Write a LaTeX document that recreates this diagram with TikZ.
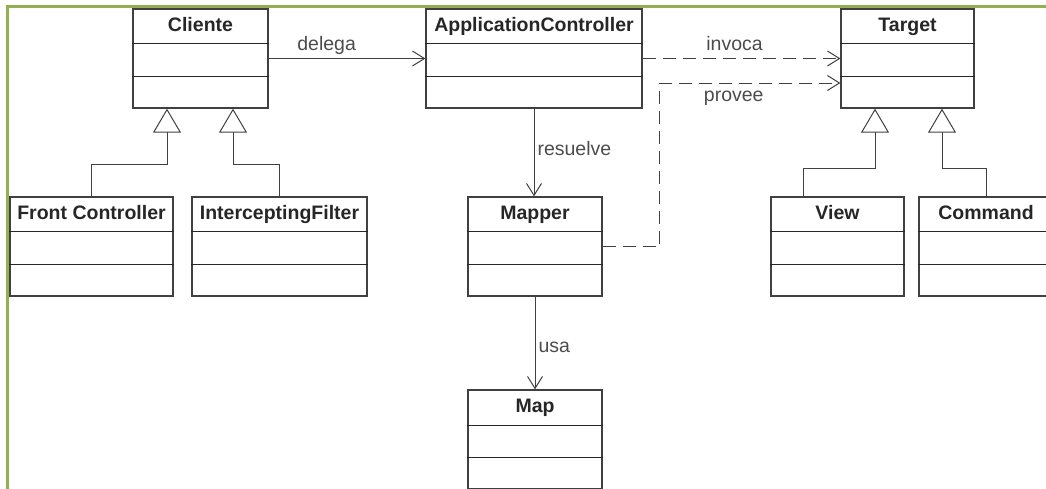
\documentclass[tikz,border=0pt]{standalone}
\usepackage{fontspec}
\setmainfont{Liberation Sans}
\usetikzlibrary{arrows.meta}

\definecolor{verde}{RGB}{146,176,80}

\tikzset{
  clase/.style={draw=black!75, line width=1.3pt, fill=white, minimum height=99pt, inner sep=0pt},
  divisor/.style={draw=black!85, line width=1pt},
  titulo/.style={anchor=base, inner sep=0pt, font=\fontsize{19.5}{21}\selectfont\bfseries, text=black!85},
  etiqueta/.style={inner sep=0pt, font=\fontsize{19.5}{21}\selectfont, text=black!70},
  asoc/.style={draw=black!75, line width=1pt, -{Straight Barb[length=12pt,width=15pt]}},
  depende/.style={asoc, dash pattern=on 13pt off 7pt},
  hereda/.style={draw=black!75, line width=1pt, -{Triangle[open, length=24pt, width=28pt]}}
}

\begin{document}
\begin{tikzpicture}[x=1pt,y=-1pt]
\useasboundingbox (0,0) rectangle (1046,488);
\clip (0,0) rectangle (1046,488);

% marco
\draw[verde, line width=3pt] (7,490) -- (7,6) -- (1046,6);

% clases de arriba
\node[clase, minimum width=135pt] (cliente) at (200.5,58.5) {};
\node[titulo] (cliente-t) at ([yshift=-23.5pt]cliente.north) {Cliente};
\draw[divisor] ([yshift=-35pt]cliente.north west) -- ([yshift=-35pt]cliente.north east);
\draw[divisor] ([yshift=-68pt]cliente.north west) -- ([yshift=-68pt]cliente.north east);

\node[clase, minimum width=216pt] (appctrl) at (534,58.5) {};
\node[titulo] (appctrl-t) at ([yshift=-23.5pt]appctrl.north) {ApplicationController};
\draw[divisor] ([yshift=-35pt]appctrl.north west) -- ([yshift=-35pt]appctrl.north east);
\draw[divisor] ([yshift=-68pt]appctrl.north west) -- ([yshift=-68pt]appctrl.north east);

\node[clase, minimum width=133pt] (target) at (907.5,58.5) {};
\node[titulo] (target-t) at ([yshift=-23.5pt]target.north) {Target};
\draw[divisor] ([yshift=-35pt]target.north west) -- ([yshift=-35pt]target.north east);
\draw[divisor] ([yshift=-68pt]target.north west) -- ([yshift=-68pt]target.north east);

% clases del medio
\node[clase, minimum width=163pt] (front) at (91.5,246.5) {};
\node[titulo] (front-t) at ([yshift=-23.5pt]front.north) {Front Controller};
\draw[divisor] ([yshift=-35pt]front.north west) -- ([yshift=-35pt]front.north east);
\draw[divisor] ([yshift=-68pt]front.north west) -- ([yshift=-68pt]front.north east);

\node[clase, minimum width=175pt] (filter) at (279.5,246.5) {};
\node[titulo] (filter-t) at ([yshift=-23.5pt]filter.north) {InterceptingFilter};
\draw[divisor] ([yshift=-35pt]filter.north west) -- ([yshift=-35pt]filter.north east);
\draw[divisor] ([yshift=-68pt]filter.north west) -- ([yshift=-68pt]filter.north east);

\node[clase, minimum width=134pt] (mapper) at (535,246.5) {};
\node[titulo] (mapper-t) at ([yshift=-23.5pt]mapper.north) {Mapper};
\draw[divisor] ([yshift=-35pt]mapper.north west) -- ([yshift=-35pt]mapper.north east);
\draw[divisor] ([yshift=-68pt]mapper.north west) -- ([yshift=-68pt]mapper.north east);

\node[clase, minimum width=133pt] (view) at (837.5,246.5) {};
\node[titulo] (view-t) at ([yshift=-23.5pt]view.north) {View};
\draw[divisor] ([yshift=-35pt]view.north west) -- ([yshift=-35pt]view.north east);
\draw[divisor] ([yshift=-68pt]view.north west) -- ([yshift=-68pt]view.north east);

\node[clase, minimum width=134pt] (command) at (986,246.5) {};
\node[titulo] (command-t) at ([yshift=-23.5pt]command.north) {Command};
\draw[divisor] ([yshift=-35pt]command.north west) -- ([yshift=-35pt]command.north east);
\draw[divisor] ([yshift=-68pt]command.north west) -- ([yshift=-68pt]command.north east);

% abajo
\node[clase, minimum width=134pt] (map) at (535,439.5) {};
\node[titulo] (map-t) at ([yshift=-23.5pt]map.north) {Map};
\draw[divisor] ([yshift=-36pt]map.north west) -- ([yshift=-36pt]map.north east);
\draw[divisor] ([yshift=-68pt]map.north west) -- ([yshift=-68pt]map.north east);

% asociaciones
\draw[asoc] (cliente.east) -- (appctrl.west) node[etiqueta, anchor=base, pos=0.37, yshift=8pt] (l-delega) {delega};
\draw[depende] (appctrl.east) -- (target.west) node[etiqueta, anchor=base, pos=0.465, yshift=8pt] (l-invoca) {invoca};
\draw[depende] (mapper.east) -- ++(57,0) |- ([yshift=-24.5pt]target.west) node[etiqueta, anchor=base, pos=0.705, yshift=-18pt] (l-provee) {provee};
\draw[asoc] (appctrl.south) -- (appctrl.south |- mapper.north) node[etiqueta, anchor=base west, pos=0.53, xshift=3pt] (l-resuelve) {resuelve};
\draw[asoc] (mapper.south) -- (map.north) node[etiqueta, anchor=base west, pos=0.6, xshift=3pt] (l-usa) {usa};

% herencia
\draw[hereda] (front.north) -- ++(0,-32) -| ([xshift=-33.5pt]cliente.south);
\draw[hereda] (filter.north) -- ++(0,-32) -| ([xshift=32.5pt]cliente.south);
\draw[hereda] ([xshift=-34.5pt]view.north) -- ++(0,-28) -| ([xshift=-32.5pt]target.south);
\draw[hereda] (command.north) -- ++(0,-28) -| ([xshift=34.5pt]target.south);

\end{tikzpicture}
\end{document}
